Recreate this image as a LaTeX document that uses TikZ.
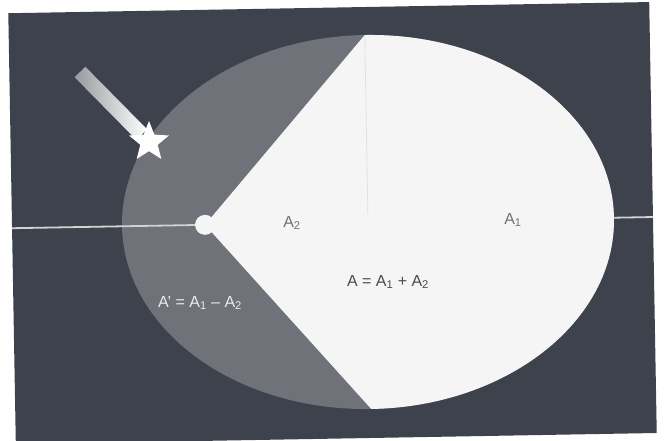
\documentclass[tikz,border=0pt]{standalone}
\usepackage{fontspec}
\setmainfont{Liberation Sans}
\usetikzlibrary{shapes.geometric}
\definecolor{bgdark}{HTML}{3D424C}
\definecolor{ellgray}{HTML}{6F7279}
\definecolor{wfill}{HTML}{F5F5F5}
\definecolor{axisline}{HTML}{D2D2D2}
\definecolor{vline}{HTML}{E2E2E2}
\definecolor{trailgray}{HTML}{979A9F}
\begin{document}
\begin{tikzpicture}[x=1pt,y=-1pt,
  lbl/.style={font=\fontsize{16}{19}\selectfont, inner sep=0pt},
  darklbl/.style={lbl, text=black!70},
  lightlbl/.style={lbl, text=black!8}]
\useasboundingbox (0,0) rectangle (664,441);
\fill[white] (0,0) rectangle (664,441);
\begin{scope}[rotate around={1:(368,222)}]
  \fill[bgdark] (12,7) rectangle (653,438);
  \coordinate (C) at (368,222);
  \fill[ellgray] (C) ellipse [x radius=246, y radius=187];
  \coordinate (axL) at (12,222);
  \coordinate (axR) at (653,222);
  \draw[axisline, line width=1.8pt] (axL) -- (axR);
  \coordinate (F) at (205,222);
  \coordinate (T) at (368,35);
  \coordinate (Vb) at (368,214);
  \fill[wfill] (F) -- (T) arc[start angle=-90, end angle=90, x radius=246, y radius=187] -- cycle;
  \draw[vline, line width=0.8pt] (T) -- (Vb);
  \node[circle, fill=wfill, minimum size=20pt, inner sep=0pt] (focus) at (F) {};
\end{scope}
% comet trail and star
\begin{scope}[shift={(80,72)}, rotate=-45.4]
  \shade[left color=trailgray, right color=white] (0,-7.5) rectangle (88,7.5);
\end{scope}
\node[star, star points=5, star point ratio=2.3, fill=white, minimum size=42pt, inner sep=0pt] (star) at (149,142) {};
% labels
\node[darklbl, text=black!55] (a2) at (292,223) {A\textsubscript{2}};
\node[darklbl, text=black!55] (a1) at (513,220) {A\textsubscript{1}};
\node[darklbl] (sum) at (388,282) {A = A\textsubscript{1} + A\textsubscript{2}};
\node[lightlbl] (diff) at (200,303) {A' = A\textsubscript{1} – A\textsubscript{2}};
\end{tikzpicture}
\end{document}
